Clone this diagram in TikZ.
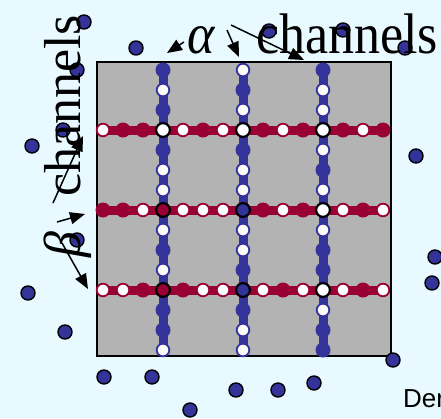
\documentclass[tikz,border=0pt]{standalone}
\usepackage{fontspec}
\setmainfont{Liberation Serif}
\newfontfamily\lsans{Liberation Sans}
\usetikzlibrary{arrows.meta}
\definecolor{bg}{RGB}{232,250,255}
\definecolor{sq}{RGB}{179,179,179}
\definecolor{chb}{RGB}{51,51,153}
\definecolor{chr}{RGB}{153,0,51}
\begin{document}
\begin{tikzpicture}[x=1pt,y=-1pt,
 rF/.style={fill=chr, radius=7.5pt},
 rW/.style={fill=white, draw=chr, line width=1.8pt, radius=6.3pt},
 cF/.style={fill=chb, radius=7.5pt},
 cW/.style={fill=white, draw=chb, line width=1.8pt, radius=6.3pt},
 iX/.style={fill=white, draw=black, line width=2pt, radius=6.8pt},
 iB/.style={fill=chb, draw=black, line width=2pt, radius=6.8pt},
 iR/.style={fill=chr, draw=black, line width=2pt, radius=6.8pt},
 sdot/.style={fill=chb, draw=black, line width=1.4pt, radius=7pt},
 lbl/.style={inner sep=0, font=\fontsize{52}{52}\selectfont},
 arr/.style={line width=1.5pt, -{Triangle[length=15pt,width=12pt]}}]
\fill[bg] (0,0) rectangle (441,418);
\useasboundingbox (0,0) rectangle (441,418);
\filldraw[fill=sq, draw=black, line width=2pt] (97,62) rectangle (391,356);
% channel lines
\foreach \x in {163,243,323} \draw[chb, line width=9pt] (\x,70) -- (\x,350);
\foreach \y in {130,210,290} \draw[chr, line width=9pt] (103,\y) -- (383,\y);
% column dots
\foreach \t [count=\i from 0] in {cF,cW,cF,iX,cF,cW,cW,iR,cW,cF,cW,iR,cF,cF,cW}
  \path[\t] (163,70+20*\i) circle[];
\foreach \t [count=\i from 0] in {cW,cF,cW,iX,cF,cW,cW,iB,cW,cW,cF,iB,cF,cW,cW}
  \path[\t] (243,70+20*\i) circle[];
\foreach \t [count=\i from 0] in {cF,cW,cW,iX,cW,cF,cW,iX,cW,cF,cF,iX,cW,cF,cF}
  \path[\t] (323,70+20*\i) circle[];
% row dots
\foreach \t [count=\i from 0] in {rW,rF,rF,iX,rW,rF,rW,iX,rF,rW,rF,iX,rF,rW,rF}
  \path[\t] (103+20*\i,130) circle[];
\foreach \t [count=\i from 0] in {rF,rF,rW,iR,rW,rW,rW,iB,rF,rW,rF,iX,rW,rF,rW}
  \path[\t] (103+20*\i,210) circle[];
\foreach \t [count=\i from 0] in {rW,rW,rF,iR,rF,rW,rW,iB,rW,rF,rW,iX,rW,rF,rW}
  \path[\t] (103+20*\i,290) circle[];
% scattered dots
\foreach \p in {(84,22),(77,70),(136,48),(63,130),(32,146),(77,240),(28,293),(65,332),
  (269,31),(343,30),(405,48),(416,156),(435,257),(432,283),(393,360),
  (104,377),(152,377),(190,410),(236,390),(278,390),(314,383)}
  \path[sdot] \p circle[];
% labels
\node[lbl, anchor=base west, yscale=1.1] (alab) at (187,53) {\itshape α};
\node[lbl, anchor=base west, yscale=1.1] (atxt) at (256,53) {channels};
\node[lbl, anchor=base west, rotate=90] (blab) at (80,258) {\itshape β};
\node[lbl, anchor=base west, rotate=90] (btxt) at (80,197) {channels};
\node[inner sep=0, anchor=base west, font=\lsans\fontsize{26}{26}\selectfont] (der) at (403,407) {Der};
% arrows
\coordinate (a1s) at (184,42); \coordinate (a1e) at (167,53);
\coordinate (a2s) at (227,30); \coordinate (a2e) at (239,57);
\coordinate (a3s) at (231,25); \coordinate (a3e) at (304,60);
\coordinate (b1s) at (62,243); \coordinate (b1e) at (88,289);
\coordinate (b2s) at (57,222); \coordinate (b2e) at (85,214);
\coordinate (b3s) at (53,203); \coordinate (b3e) at (83,136);
\draw[arr] (a1s) -- (a1e);
\draw[arr] (a2s) -- (a2e);
\draw[arr] (a3s) -- (a3e);
\draw[arr] (b1s) -- (b1e);
\draw[arr] (b2s) -- (b2e);
\draw[arr] (b3s) -- (b3e);
\end{tikzpicture}
\end{document}
